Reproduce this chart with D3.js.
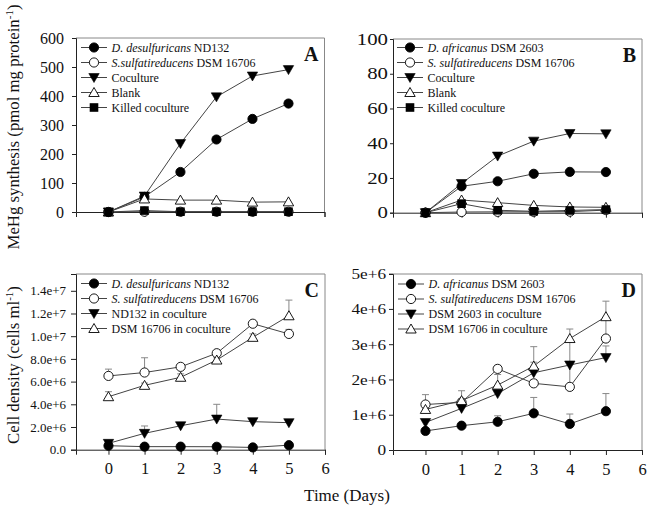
<!DOCTYPE html>
<html><head><meta charset="utf-8">
<script src="https://cdn.jsdelivr.net/npm/d3@7"></script>
<style>body{margin:0;background:#fff}svg{display:block}svg text{font-family:'Liberation Serif','Times New Roman','DejaVu Serif',serif !important;fill:#111}</style>
</head><body>
<script>
const days = [0,1,2,3,4,5];
const xTicks = [0,1,2,3,4,5,6];
// Panel A
const aNames = ["D. desulfuricans|ND132","S.sulfatireducens|DSM 16706","Coculture","Blank","Killed coculture"];
const aDesulf = [0,52,138,250,321,374];
const aDesulfErr = [0,3,4,8,10,5];
const aSulfa = [0,1,1,1,1,1];
const aCocult = [0,55,236,397,469,491];
const aBlank = [0,45,41,41,34,35];
const aKilled = [0,5,1,1,1,1];
const aTicks = [0,100,200,300,400,500,600];
// Panel B
const bNames = ["D. africanus|DSM 2603","S. sulfatireducens|DSM 16706","Coculture","Blank","Killed coculture"];
const bAfric = [0,15.2,18.1,22.4,23.5,23.4];
const bSulfa = [0,0.4,0.5,0.5,0.6,1.5];
const bCocult = [0,16.8,32.6,41.2,45.6,45.4];
const bCocultErr = [0,1,1.2,0.5,0.3,0.3];
const bBlank = [0,7.3,5.8,4.2,3.3,3.1];
const bKilled = [0,5.2,1.4,0.8,1.3,1.8];
const bTicks = [0,20,40,60,80,100];
// Panel C
const cNames = ["D. desulfuricans|ND132","S. sulfatireducens|DSM 16706","ND132 in coculture","DSM 16706 in coculture"];
const cDesulf = [0.35e6,0.27e6,0.27e6,0.26e6,0.2e6,0.4e6];
const cSulfa = [6.5e6,6.8e6,7.3e6,8.5e6,11.1e6,10.2e6];
const cSulfaErr = [0.6e6,1.3e6,0.2e6,0.2e6,0.2e6,0.4e6];
const cND = [0.56e6,1.44e6,2.11e6,2.7e6,2.47e6,2.38e6];
const cNDErr = [0.2e6,0.65e6,0.1e6,1.3e6,0.1e6,0.1e6];
const cDSM = [4.67e6,5.67e6,6.38e6,7.9e6,9.9e6,11.8e6];
const cDSMErr = [0.44e6,0.2e6,0.3e6,0.2e6,0.3e6,1.38e6];
const cTicks = [0,2e6,4e6,6e6,8e6,10e6,12e6,14e6];
const cTickLabels = ["0.0","2.0e+6","4.0e+6","6.0e+6","8.0e+6","1.0e+7","1.2e+7","1.4e+7"];
// Panel D
const dNames = ["D. africanus|DSM 2603","S. sulfatireducens|DSM 16706","DSM 2603 in coculture","DSM 16706 in coculture"];
const dAfric = [0.54e6,0.69e6,0.8e6,1.04e6,0.74e6,1.1e6];
const dAfricErr = [0.05e6,0.05e6,0.17e6,0.45e6,0.28e6,0.5e6];
const dSulfa = [1.29e6,1.35e6,2.3e6,1.89e6,1.79e6,3.16e6];
const dSulfaErr = [0.28e6,0.1e6,0.1e6,0.1e6,1.3e6,0.6e6];
const dCo2603 = [0.78e6,1.18e6,1.6e6,2.19e6,2.41e6,2.62e6];
const dCo2603Err = [0.05e6,0.05e6,0.05e6,0.3e6,0.1e6,0.33e6];
const dCo16706 = [1.15e6,1.4e6,1.84e6,2.38e6,3.16e6,3.78e6];
const dCo16706Err = [0.05e6,0.28e6,0.3e6,0.55e6,0.27e6,0.44e6];
const dTicks = [0,1e6,2e6,3e6,4e6,5e6];
const dTickLabels = ["0","1e+6","2e+6","3e+6","4e+6","5e+6"];

const FF = "'Liberation Serif','Times New Roman','DejaVu Serif',serif";
const W = 648, H = 508;
const svg = d3.select("body").append("svg").attr("width", W).attr("height", H).attr("font-family", FF);

function marker(g, type, x, y) {
  const s = 4.6;
  if (type === "fc" || type === "oc") {
    g.append("circle").attr("cx", x).attr("cy", y).attr("r", s)
      .attr("fill", type === "fc" ? "#000" : "#fff").attr("stroke", "#000").attr("stroke-width", 0.9);
  } else if (type === "dt") {
    g.append("path").attr("d", `M${x-5.2},${y-4} L${x+5.2},${y-4} L${x},${y+5} Z`).attr("fill", "#000").attr("stroke", "#000").attr("stroke-width", 0.6);
  } else if (type === "ut") {
    g.append("path").attr("d", `M${x-5.2},${y+4} L${x+5.2},${y+4} L${x},${y-5} Z`).attr("fill", "#fff").attr("stroke", "#000").attr("stroke-width", 0.9);
  } else if (type === "sq") {
    g.append("rect").attr("x", x-4.3).attr("y", y-4.3).attr("width", 8.6).attr("height", 8.6).attr("fill", "#000");
  }
}

function panel(cfg) {
  const x = d3.scaleLinear().domain([-0.9, 6]).range([cfg.x0, cfg.x1]);
  const y = d3.scaleLinear().domain(cfg.ydom).range([cfg.y0, cfg.y1]);
  const g = svg.append("g");
  g.append("path").attr("d", `M${cfg.x0},${cfg.y1} H${cfg.x1} V${cfg.y0}`).attr("fill","none").attr("stroke","#888").attr("stroke-width",1);
  const ax = g.append("g").attr("transform", `translate(0,${cfg.y0})`)
    .call(d3.axisBottom(x).tickValues(xTicks).tickSize(5).tickFormat(cfg.xlabels ? d3.format("d") : ""));
  ax.attr("font-family", FF);
  ax.select(".domain").attr("stroke","#222");
  ax.selectAll(".tick line").attr("stroke","#222");
  ax.selectAll("text").attr("font-size", 16.5).attr("dy", "1.0em").attr("fill","#111").attr("font-family", FF);
  const ay = g.append("g").attr("transform", `translate(${cfg.x0},0)`)
    .call(d3.axisLeft(y).tickValues(cfg.yticks).tickSize(cfg.ytick)
      .tickFormat((d,i) => cfg.ylabels ? cfg.ylabels[i] : d));
  ay.attr("font-family", FF);
  ay.select(".domain").attr("stroke","#222");
  ay.selectAll(".tick line").attr("stroke","#222");
  ay.selectAll("text").attr("font-size", cfg.yfs).attr("fill","#111").attr("font-family", FF)
    .attr("x", -cfg.yend / cfg.ystretch).attr("transform", `scale(${cfg.ystretch},1)`);
  cfg.series.forEach(s => {
    if (!s.err) return;
    s.vals.forEach((v,i) => {
      if (!s.err[i]) return;
      const px = x(days[i]), py = y(v), pt = y(v + s.err[i]);
      g.append("line").attr("x1",px).attr("x2",px).attr("y1",py).attr("y2",pt).attr("stroke","#888").attr("stroke-width",1);
      g.append("line").attr("x1",px-3.5).attr("x2",px+3.5).attr("y1",pt).attr("y2",pt).attr("stroke","#888").attr("stroke-width",1);
    });
  });
  const line = d3.line().x((d,i) => x(days[i])).y(d => y(d));
  cfg.series.forEach(s => {
    g.append("path").attr("d", line(s.vals)).attr("fill","none").attr("stroke","#444").attr("stroke-width",1);
  });
  cfg.series.forEach(s => {
    s.vals.forEach((v,i) => marker(g, s.m, x(days[i]), y(v)));
  });
  cfg.series.forEach((s,i) => {
    const ly = cfg.ly + i * 15;
    g.append("line").attr("x1", cfg.lx).attr("x2", cfg.lx + 26).attr("y1", ly).attr("y2", ly).attr("stroke","#444").attr("stroke-width",1);
    marker(g, s.m, cfg.lx + 13, ly);
    const t = g.append("text").attr("x", cfg.lx + 30.5).attr("y", ly + 4.2).attr("font-size", 12).attr("font-family", FF);
    const parts = s.name.split("|");
    if (parts.length > 1) {
      t.append("tspan").attr("font-style","italic").text(parts[0]);
      t.append("tspan").text(" " + parts[1]);
    } else t.text(parts[0]);
  });
  g.append("text").attr("x", cfg.x1 - 6).attr("y", cfg.y1 + 23).attr("text-anchor","end").attr("font-family", FF)
    .attr("font-size", 20).attr("font-weight","bold").text(cfg.letter);
}

panel({x0:76, x1:324.5, y0:212, y1:38, ydom:[0,600], yticks:aTicks, yfs:16, ystretch:1, ytick:4, yend:12, letter:"A",
  lx:81, ly:47.5, xlabels:false,
  series:[
    {name:aNames[0], vals:aDesulf, err:aDesulfErr, m:"fc"},
    {name:aNames[1], vals:aSulfa, m:"oc"},
    {name:aNames[2], vals:aCocult, m:"dt"},
    {name:aNames[3], vals:aBlank, m:"ut"},
    {name:aNames[4], vals:aKilled, m:"sq"}]});
panel({x0:393, x1:642, y0:212.7, y1:39, ydom:[0,100], yticks:bTicks, yfs:16, ystretch:1.3, ytick:3, yend:5, letter:"B",
  lx:397, ly:47.5, xlabels:false,
  series:[
    {name:bNames[0], vals:bAfric, m:"fc"},
    {name:bNames[1], vals:bSulfa, m:"oc"},
    {name:bNames[2], vals:bCocult, err:bCocultErr, m:"dt"},
    {name:bNames[3], vals:bBlank, m:"ut"},
    {name:bNames[4], vals:bKilled, m:"sq"}]});
panel({x0:76, x1:325, y0:449.7, y1:274, ydom:[0,1.548e7], yticks:cTicks, ylabels:cTickLabels, yfs:13, ystretch:1, ytick:5, yend:10, letter:"C",
  lx:81, ly:283.5, xlabels:true,
  series:[
    {name:cNames[0], vals:cDesulf, m:"fc"},
    {name:cNames[1], vals:cSulfa, err:cSulfaErr, m:"oc"},
    {name:cNames[2], vals:cND, err:cNDErr, m:"dt"},
    {name:cNames[3], vals:cDSM, err:cDSMErr, m:"ut"}]});
panel({x0:393, x1:642, y0:450, y1:274, ydom:[0,4.99e6], yticks:dTicks, ylabels:dTickLabels, yfs:15, ystretch:1.15, ytick:4, yend:7, letter:"D",
  lx:398, ly:284, xlabels:true,
  series:[
    {name:dNames[0], vals:dAfric, err:dAfricErr, m:"fc"},
    {name:dNames[1], vals:dSulfa, err:dSulfaErr, m:"oc"},
    {name:dNames[2], vals:dCo2603, err:dCo2603Err, m:"dt"},
    {name:dNames[3], vals:dCo16706, err:dCo16706Err, m:"ut"}]});

const t1 = svg.append("text").attr("transform","translate(19,127) rotate(-90)").attr("text-anchor","middle").attr("font-size",16.8).attr("font-family", FF);
t1.append("tspan").text("MeHg synthesis (pmol mg protein");
t1.append("tspan").attr("font-size",11).attr("dy",-6).text("-1");
t1.append("tspan").attr("dy",6).text(")");
const t2 = svg.append("text").attr("transform","translate(19,365) rotate(-90)").attr("text-anchor","middle").attr("font-size",16.8).attr("font-family", FF);
t2.append("tspan").text("Cell density (cells ml");
t2.append("tspan").attr("font-size",11).attr("dy",-6).text("-1");
t2.append("tspan").attr("dy",6).text(")");
svg.append("text").attr("x",347).attr("y",501).attr("text-anchor","middle").attr("font-size",17).attr("font-family", FF).text("Time (Days)");
</script>
</body></html>
